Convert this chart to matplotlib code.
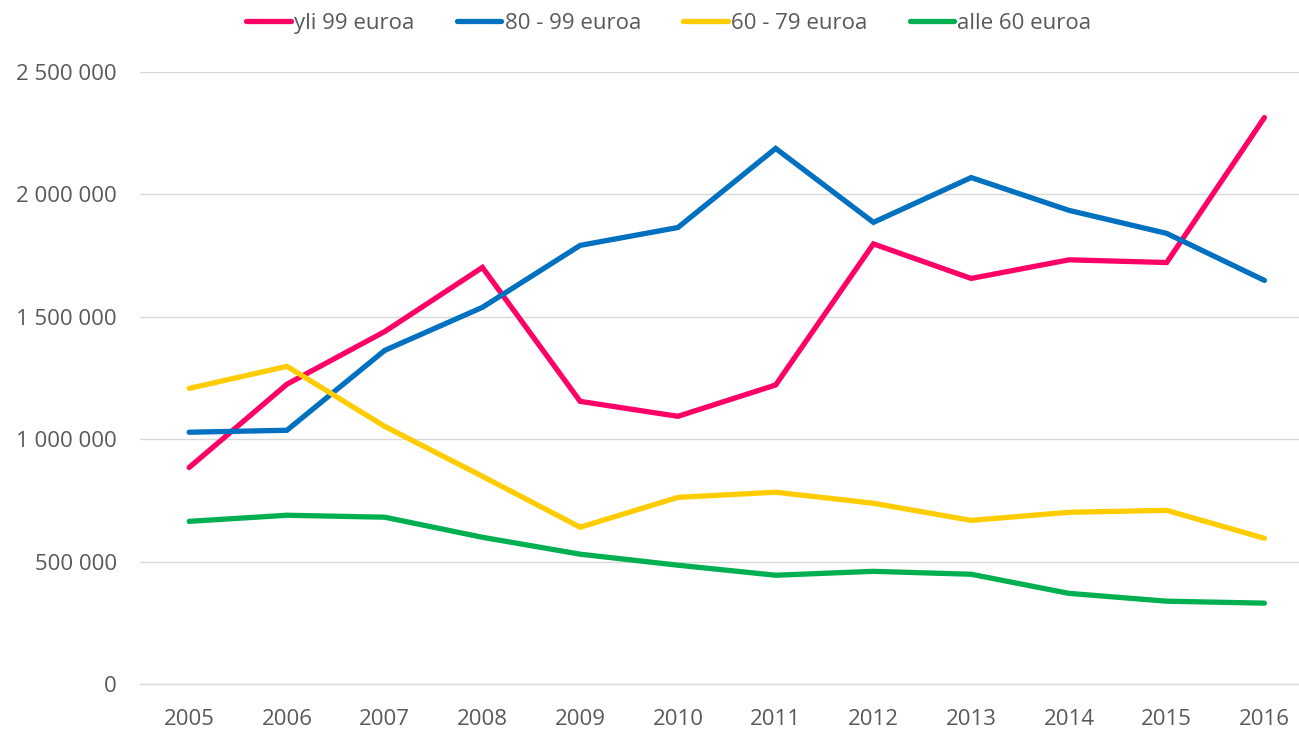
import matplotlib.pyplot as plt
from matplotlib.ticker import FuncFormatter

# data
years = ['2005', '2006', '2007', '2008', '2009', '2010', '2011', '2012', '2013', '2014', '2015', '2016']
yli_99 = [885000, 1225000, 1440000, 1702000, 1155000, 1094000, 1222000, 1798000, 1657000, 1733000, 1722000, 2314000]
eur_80_99 = [1029000, 1037000, 1363000, 1539000, 1792000, 1865000, 2188000, 1886000, 2069000, 1935000, 1841000, 1649000]
eur_60_79 = [1208000, 1298000, 1053000, 849000, 641000, 763000, 784000, 739000, 669000, 702000, 710000, 596000]
alle_60 = [665000, 690000, 682000, 600000, 531000, 486000, 445000, 461000, 449000, 371000, 339000, 331000]

labels = ['yli 99 euroa', '80 - 99 euroa', '60 - 79 euroa', 'alle 60 euroa']
colors = ['#FF0066', '#0070C0', '#FFCC00', '#00B050']
series = [yli_99, eur_80_99, eur_60_79, alle_60]

plt.rcParams['font.family'] = ['Open Sans', 'DejaVu Sans']

fig = plt.figure(figsize=(12.99, 7.31), dpi=100)
ax = fig.add_axes([0.108, 0.064, 0.903, 0.8375])

x = range(len(years))
for vals, lab, col in zip(series, labels, colors):
    ax.plot(x, vals, color=col, linewidth=3.8, label=lab, solid_capstyle='round', solid_joinstyle='miter')

ax.set_xlim(-0.5, len(years) - 0.5)
ax.set_ylim(0, 2500000)
ax.set_yticks(range(0, 2500001, 500000))
ax.yaxis.set_major_formatter(FuncFormatter(lambda v, p: f'{int(v):,}'.replace(',', ' ')))
ax.set_xticks(list(x))
ax.set_xticklabels(years)

ax.grid(axis='y', color='#D9D9D9', linewidth=1)
ax.set_axisbelow(True)
for s in ['top', 'right', 'left']:
    ax.spines[s].set_visible(False)
ax.spines['bottom'].set_color('#D9D9D9')
ax.spines['bottom'].set_linewidth(1)
ax.tick_params(length=0, labelsize=16, colors='#595959')
ax.tick_params(axis='y', pad=17)
ax.tick_params(axis='x', pad=18)

fig.legend(loc='upper center', bbox_to_anchor=(0.515, 1.01), ncol=4, frameon=False,
           fontsize=16, labelcolor='#595959', handlelength=2.0, handletextpad=0.15,
           columnspacing=1.9)

plt.savefig('out.png', dpi=100)
